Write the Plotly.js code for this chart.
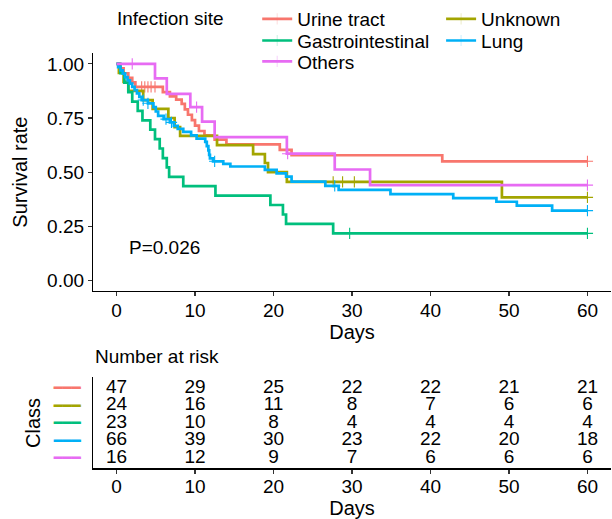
<!DOCTYPE html>
<html><head><meta charset="utf-8">
<script src="https://cdn.plot.ly/plotly-3.0.1.min.js"></script>
<style>html,body{margin:0;padding:0;background:#fff;} #chart{width:612px;height:519px;}</style>
</head><body><div id="chart"></div>
<script>
// ---- data ----
const groups = ['Urine tract', 'Unknown', 'Gastrointestinal', 'Lung', 'Others'];
const colors = ['#F8766D', '#A3A500', '#00BF7D', '#00B0F6', '#E76BF3'];
const legendIds = ['legend', 'legend2', 'legend3', 'legend4', 'legend5'];

const urineTime = [0, 0.4, 0.9, 1.5, 2.0, 2.4, 5.9, 6.8, 7.6, 8.3, 8.7, 9.1, 9.6, 10.0, 10.5, 11.2, 12.5, 14.0, 20.8, 22.3, 41.5, 60];
const urineSurv = [1, 0.979, 0.957, 0.936, 0.915, 0.894, 0.870, 0.850, 0.835, 0.815, 0.790, 0.765, 0.740, 0.715, 0.690, 0.670, 0.650, 0.628, 0.603, 0.578, 0.550, 0.550];
const urineCensor = [3.2, 3.6, 4.0, 4.4, 4.9, 60];

const unknownTime = [0, 0.3, 0.9, 1.5, 3.4, 4.6, 6.6, 7.4, 8.1, 12.8, 17.4, 18.9, 19.3, 21.7, 49.1, 60];
const unknownSurv = [1, 0.958, 0.917, 0.875, 0.833, 0.792, 0.750, 0.708, 0.667, 0.625, 0.583, 0.542, 0.500, 0.455, 0.383, 0.383];
const unknownCensor = [27.6, 28.8, 30.3, 60];

const gastroTime = [0, 0.5, 1.0, 1.5, 2.0, 2.7, 3.3, 4.3, 4.9, 5.5, 5.9, 6.4, 6.7, 8.5, 12.6, 19.6, 21.2, 21.6, 27.6, 60];
const gastroSurv = [1, 0.957, 0.913, 0.870, 0.826, 0.783, 0.739, 0.696, 0.652, 0.609, 0.565, 0.522, 0.478, 0.435, 0.391, 0.348, 0.304, 0.261, 0.217, 0.217];
const gastroCensor = [29.7, 60];

const lungTime = [0, 0.2, 0.5, 0.8, 1.1, 1.4, 1.7, 2.0, 2.3, 2.6, 2.9, 3.2, 4.0, 4.7, 5.0, 5.3, 6.0, 6.8, 7.3, 7.8, 8.5, 9.5, 10.2, 11.3, 11.5, 11.7, 11.8, 11.9, 12.3, 13.6, 14.5, 18.9, 20.4, 21.6, 22.3, 26.6, 28.3, 34.9, 42.9, 48.4, 51.0, 55.5, 60];
const lungSurv = [1, 0.985, 0.970, 0.955, 0.939, 0.924, 0.909, 0.894, 0.879, 0.864, 0.848, 0.833, 0.818, 0.800, 0.780, 0.760, 0.745, 0.730, 0.714, 0.700, 0.686, 0.670, 0.655, 0.640, 0.620, 0.600, 0.580, 0.563, 0.550, 0.538, 0.526, 0.510, 0.494, 0.479, 0.456, 0.436, 0.418, 0.398, 0.380, 0.363, 0.345, 0.322, 0.322];
const lungCensor = [3.4, 4.0, 6.3, 7.0, 12.5, 27.8, 60];

const othersTime = [0, 4.9, 6.4, 9.4, 10.9, 12.5, 21.7, 27.8, 32.3, 60];
const othersSurv = [1, 0.933, 0.862, 0.800, 0.733, 0.662, 0.585, 0.512, 0.440, 0.440];
const othersCensor = [2.0, 10.2, 21.8, 60];

const riskTimes = [0, 10, 20, 30, 40, 50, 60];
const urineRisk = [47, 29, 25, 22, 22, 21, 21];
const unknownRisk = [24, 16, 11, 8, 7, 6, 6];
const gastroRisk = [23, 10, 8, 4, 4, 4, 4];
const lungRisk = [66, 39, 30, 23, 22, 20, 18];
const othersRisk = [16, 12, 9, 7, 6, 6, 6];

const yTicks = [0, 0.25, 0.5, 0.75, 1];
const yTickText = ['0.00', '0.25', '0.50', '0.75', '1.00'];
const xTicks = [0, 10, 20, 30, 40, 50, 60];
const pText = 'P=0.026';

// ---- build ----
const series = [
  {t: urineTime, s: urineSurv, c: urineCensor, r: urineRisk},
  {t: unknownTime, s: unknownSurv, c: unknownCensor, r: unknownRisk},
  {t: gastroTime, s: gastroSurv, c: gastroCensor, r: gastroRisk},
  {t: lungTime, s: lungSurv, c: lungCensor, r: lungRisk},
  {t: othersTime, s: othersSurv, c: othersCensor, r: othersRisk}
];

function survAt(t, times, surv) {
  let v = surv[0];
  for (let i = 0; i < times.length; i++) { if (times[i] <= t) v = surv[i]; }
  return v;
}

const FONT = 'Liberation Sans, Arial, Helvetica, sans-serif';
const traces = [];
series.forEach((g, i) => {
  const pts = g.t.map((t, k) => ({x: t, y: g.s[k], c: 0}));
  g.c.forEach(ct => pts.push({x: ct, y: survAt(ct, g.t, g.s), c: 1}));
  pts.sort((a, b) => a.x - b.x || a.c - b.c);
  traces.push({
    type: 'scatter', mode: 'lines+markers', name: groups[i], legend: legendIds[i],
    x: pts.map(p => p.x), y: pts.map(p => p.y),
    xaxis: 'x', yaxis: 'y',
    line: {shape: 'hv', color: colors[i], width: 2.7},
    marker: {symbol: 'cross-thin-open', size: 8, color: colors[i],
             opacity: pts.map(p => p.c ? 1 : 0), line: {width: 1.1, color: colors[i]}},
    hoverinfo: 'x+y'
  });
});

series.forEach((g, i) => {
  traces.push({
    type: 'scatter', mode: 'text', showlegend: false,
    x: riskTimes, y: riskTimes.map(() => 5 - i),
    text: g.r.map(String), textposition: 'middle center',
    textfont: {family: FONT, size: 19, color: '#000'},
    xaxis: 'x2', yaxis: 'y2', hoverinfo: 'skip'
  });
});

const axisCommon = {
  showline: true, linecolor: '#000', linewidth: 1.1, showgrid: false, zeroline: false,
  ticks: 'outside', ticklen: 4, tickcolor: '#333', tickwidth: 1.1,
  tickfont: {family: FONT, size: 19, color: '#000'}, automargin: false
};

// legend key positions (column, row) in the 2-column key block
function legendAt(xPaper, yPix) {
  return {
    orientation: 'h', xref: 'paper', yref: 'paper',
    x: xPaper, y: 1 - yPix / 519, xanchor: 'left', yanchor: 'middle',
    font: {family: FONT, size: 19}, itemwidth: 30,
    bgcolor: 'rgba(0,0,0,0)', borderwidth: 0
  };
}
const col1 = 0.317, col2 = 0.672;

const layout = {
  width: 612, height: 519,
  margin: {l: 93, r: 1, t: 0, b: 0},
  paper_bgcolor: '#fff', plot_bgcolor: '#fff',
  font: {family: FONT, color: '#000'},
  showlegend: true,
  legend: legendAt(col1, 14),
  legend2: legendAt(col2, 14),
  legend3: legendAt(col1, 36),
  legend4: legendAt(col2, 36),
  legend5: legendAt(col1, 57),
  xaxis: Object.assign({}, axisCommon, {
    domain: [0, 1], anchor: 'y', range: [-3, 63], tickvals: xTicks, ticklabelstandoff: -2,
    title: {text: 'Days', font: {family: FONT, size: 20}, standoff: 2}
  }),
  yaxis: Object.assign({}, axisCommon, {
    domain: [0.4434, 0.9064], anchor: 'x', range: [-0.05, 1.05],
    tickvals: yTicks, ticktext: yTickText,
    title: {text: 'Survival rate', font: {family: FONT, size: 20}, standoff: 14}
  }),
  xaxis2: Object.assign({}, axisCommon, {
    domain: [0, 1], anchor: 'y2', range: [-3, 63], tickvals: xTicks, ticklabelstandoff: -3,
    title: {text: 'Days', font: {family: FONT, size: 20}, standoff: 9}
  }),
  yaxis2: Object.assign({}, axisCommon, {
    domain: [0.0983, 0.2755], anchor: 'x2', range: [0.4, 5.6],
    tickvals: [5, 4, 3, 2, 1],
    ticktext: colors.map(c => '<span style="color:' + c + '">━━━</span>'),
    ticks: '', ticklabelstandoff: 8,
    tickfont: {family: 'DejaVu Sans', size: 15},
    title: {text: 'Class', font: {family: FONT, size: 20}, standoff: 6}
  }),
  annotations: [
    {xref: 'paper', yref: 'paper', x: 0.0425, y: 1 - 14 / 519, xanchor: 'left', yanchor: 'middle',
     text: 'Infection site', showarrow: false, font: {family: FONT, size: 19}},
    {xref: 'x', yref: 'y', x: 1.3, y: 0.15, xanchor: 'left', yanchor: 'middle',
     text: pText, showarrow: false, font: {family: FONT, size: 19}},
    {xref: 'paper', yref: 'paper', x: 0, y: 0.316, xanchor: 'left', yanchor: 'middle',
     text: 'Number at risk', showarrow: false, font: {family: FONT, size: 19}}
  ]
};

Plotly.newPlot('chart', traces, layout, {displayModeBar: false, staticPlot: true});
</script>
</body></html>
